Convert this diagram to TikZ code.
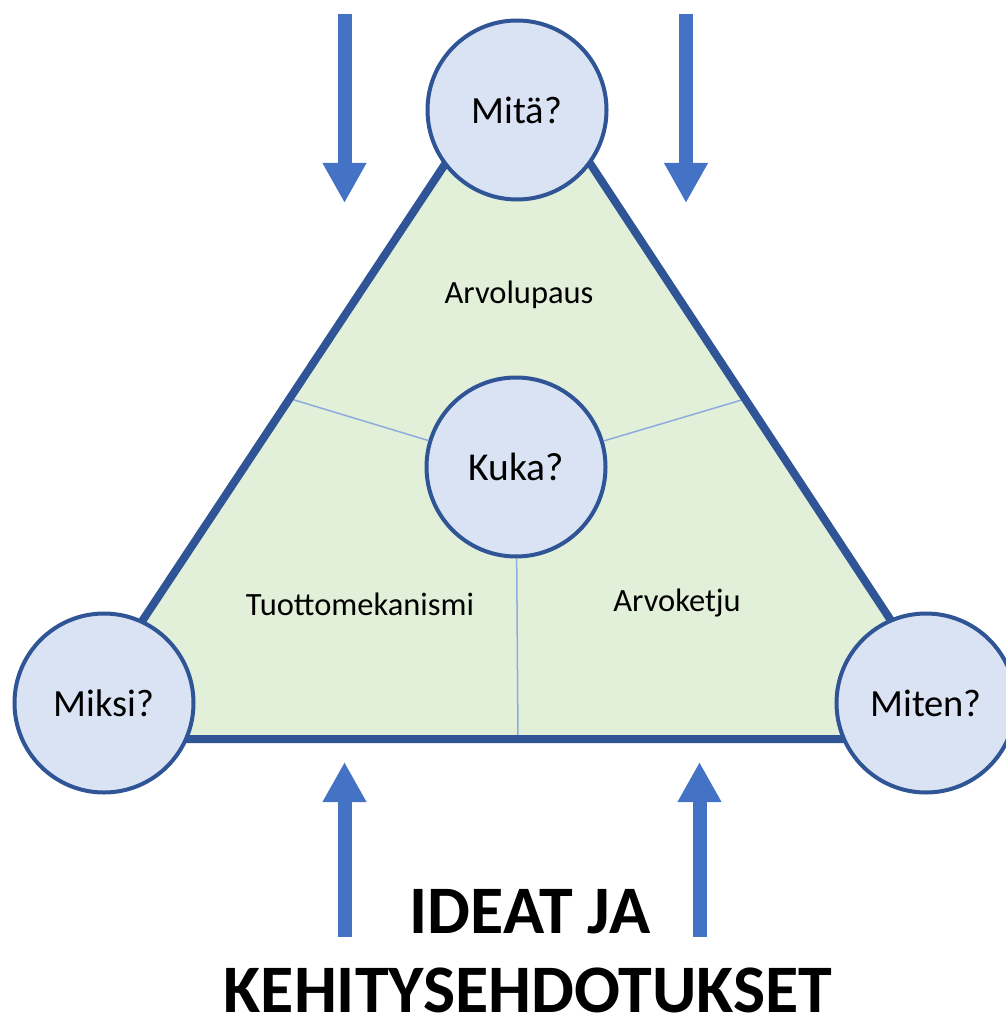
\documentclass[tikz,border=0pt]{standalone}
\usepackage{fontspec}
\setmainfont{Carlito}
\usetikzlibrary{arrows.meta}
\definecolor{edgeblue}{HTML}{2F5597}
\definecolor{bubble}{HTML}{DAE3F3}
\definecolor{leaf}{HTML}{E2F0D9}
\definecolor{flow}{HTML}{4472C4}
\definecolor{divider}{HTML}{8FAADC}
\begin{document}
\begin{tikzpicture}[x=1pt,y=-1pt,
  question/.style={circle, draw=edgeblue, line width=4pt, fill=bubble,
    minimum size=179pt, inner sep=0pt, font=\fontsize{38.5}{44}\selectfont},
  area/.style={font=\fontsize{32.5}{38}\selectfont, anchor=base, inner sep=0pt},
  flowarrow/.style={draw=flow, line width=14pt, -{Triangle[width=41pt,length=40pt]}},
  divline/.style={draw=divider, line width=1.5pt},
  headline/.style={font=\fontsize{68}{80}\selectfont\bfseries, anchor=base, inner sep=0pt}]
\useasboundingbox (0,0) rectangle (1005,1016);

% corners of the business-model triangle
\coordinate (apex) at (518,54);
\coordinate (left) at (64,739);
\coordinate (right) at (969,739);
\coordinate (sideL) at (291,399);
\coordinate (sideR) at (745,399);
\coordinate (base) at (518,739);

\fill[leaf] (apex) -- (left) -- (right) -- cycle;

% centre question and the three dividing lines
\node[question, font=\fontsize{39.5}{45}\selectfont] (kuka) at (516,467) {Kuka?};
\draw[divline] (kuka) -- (sideL);
\draw[divline] (kuka) -- (sideR);
\draw[divline] (kuka) -- (base);

\draw[edgeblue, line width=8pt, line join=miter] (apex) -- (left) -- (right) -- cycle;

% corner questions
\node[question] (mita) at (517,110) {Mitä?};
\node[question] (miksi) at (104,703) {Miksi?};
\node[question] (miten) at (926,703) {Miten?};

% area labels
\node[area] (arvolupaus) at (519,303) {Arvolupaus};
\node[area] (tuotto) at (360,615) {Tuottomekanismi};
\node[area] (arvoketju) at (677,611.5) {Arvoketju};

% incoming arrows
\coordinate (inTL) at (344.5,14);
\coordinate (tipTL) at (344.5,203);
\coordinate (inTR) at (686,14);
\coordinate (tipTR) at (686,203);
\coordinate (inBL) at (344.5,937);
\coordinate (tipBL) at (344.5,762);
\coordinate (inBR) at (699.5,937);
\coordinate (tipBR) at (699.5,762);
\draw[flowarrow] (inTL) -- (tipTL);
\draw[flowarrow] (inTR) -- (tipTR);
\draw[flowarrow] (inBL) -- (tipBL);
\draw[flowarrow] (inBR) -- (tipBR);

% title
\node[headline] (ideat) at (530,933) {IDEAT JA};
\node[headline] (kehitys) at (528,1012) {KEHITYSEHDOTUKSET};
\end{tikzpicture}
\end{document}
